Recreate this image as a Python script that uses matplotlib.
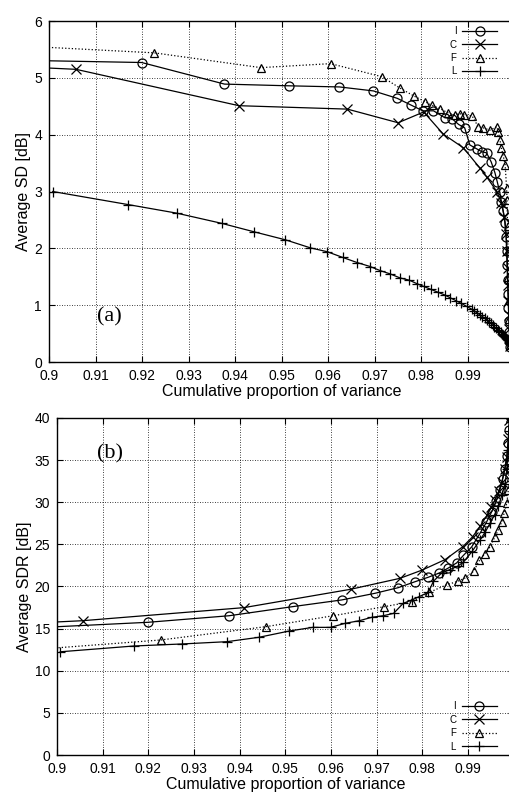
import matplotlib
matplotlib.use("Agg")
import matplotlib.pyplot as plt

plt.rcParams['font.family'] = ['Liberation Sans', 'DejaVu Sans']

labels = ['I', 'C', 'F', 'L']

# (a) average SD [dB] vs cumulative proportion of variance
sd_i_x = [0.880, 0.9199, 0.9377, 0.9515, 0.9624, 0.9697, 0.9748, 0.9778, 0.9803, 0.9826,
          0.9850, 0.9866, 0.9880, 0.9893, 0.9904, 0.9919, 0.9930, 0.9940, 0.9950, 0.9958,
          0.9963, 0.9968, 0.9972, 0.9976, 0.9980, 0.9982, 0.9983, 0.9984, 0.9985, 0.9986,
          0.9987, 0.9988, 0.9989, 0.9990, 0.9991]
sd_i_y = [5.33, 5.27, 4.89, 4.86, 4.84, 4.77, 4.64, 4.52, 4.42, 4.42,
          4.30, 4.28, 4.18, 4.12, 3.82, 3.75, 3.70, 3.68, 3.52, 3.33,
          3.17, 3.00, 2.82, 2.65, 2.45, 2.20, 1.95, 1.70, 1.45, 1.20,
          0.95, 0.72, 0.52, 0.36, 0.26]
sd_c_x = [0.885, 0.9058, 0.9408, 0.9641, 0.9750, 0.9805, 0.9847, 0.9890, 0.9926, 0.9940,
          0.9962, 0.9972, 0.9978, 0.9982, 0.9984, 0.9985, 0.9986, 0.9987, 0.9988, 0.9989,
          0.9990, 0.9991]
sd_c_y = [5.23, 5.15, 4.51, 4.45, 4.21, 4.40, 4.01, 3.77, 3.41, 3.26,
          3.00, 2.80, 2.55, 2.25, 1.95, 1.65, 1.35, 1.08, 0.82, 0.58,
          0.40, 0.28]
sd_f_x = [0.880, 0.9226, 0.9455, 0.9605, 0.9715, 0.9754, 0.9784, 0.9808, 0.9822, 0.9840,
          0.9858, 0.9872, 0.9882, 0.9892, 0.9909, 0.9922, 0.9933, 0.9947, 0.9962, 0.9965,
          0.9969, 0.9972, 0.9976, 0.9980, 0.9983, 0.9984, 0.9985, 0.9986, 0.9987, 0.9988,
          0.9989, 0.9990, 0.9991]
sd_f_y = [5.62, 5.44, 5.18, 5.25, 5.02, 4.82, 4.68, 4.58, 4.52, 4.46,
          4.38, 4.35, 4.37, 4.35, 4.33, 4.14, 4.12, 4.08, 4.14, 4.05,
          3.90, 3.76, 3.62, 3.47, 3.06, 2.85, 2.40, 1.95, 1.50, 1.10,
          0.75, 0.45, 0.30]
sd_l_x = [0.9008, 0.9170, 0.9274, 0.9371, 0.9441, 0.9508, 0.9561, 0.9598, 0.9631, 0.9662,
          0.9690, 0.9711, 0.9733, 0.9754, 0.9774, 0.9790, 0.9805, 0.9820, 0.9835, 0.9850,
          0.9862, 0.9874, 0.9886, 0.9897, 0.9908, 0.9914, 0.9920, 0.9926, 0.9931, 0.9936,
          0.9941, 0.9945, 0.9949, 0.9953, 0.9957, 0.9961, 0.9964, 0.9967, 0.9970, 0.9973,
          0.9976, 0.9978, 0.9980, 0.9982, 0.9984, 0.9986, 0.9988, 0.9989, 0.9990]
sd_l_y = [3.00, 2.77, 2.62, 2.44, 2.29, 2.15, 2.01, 1.94, 1.84, 1.75,
          1.68, 1.61, 1.55, 1.48, 1.44, 1.38, 1.33, 1.28, 1.23, 1.18,
          1.13, 1.08, 1.03, 0.98, 0.93, 0.90, 0.86, 0.83, 0.80, 0.77,
          0.74, 0.71, 0.68, 0.65, 0.62, 0.59, 0.57, 0.55, 0.52, 0.50,
          0.48, 0.46, 0.44, 0.42, 0.40, 0.38, 0.36, 0.34, 0.32]

# (b) average SDR [dB]
sdr_i_x = [0.880, 0.9199, 0.9377, 0.9516, 0.9623, 0.9696, 0.9747, 0.9784, 0.9813, 0.9837,
           0.9857, 0.9875, 0.9890, 0.9908, 0.9926, 0.9940, 0.9952, 0.9962, 0.9970, 0.9976,
           0.9981, 0.9985, 0.9988, 0.9990, 0.9992]
sdr_i_y = [14.7, 15.75, 16.53, 17.61, 18.40, 19.19, 19.86, 20.57, 21.1, 21.6,
           22.2, 22.8, 23.7, 24.7, 26.3, 27.6, 28.9, 30.2, 31.5, 32.8,
           34.0, 35.5, 37.0, 38.6, 40.2]
sdr_c_x = [0.885, 0.9056, 0.9409, 0.9643, 0.9751, 0.9800, 0.9850, 0.9888, 0.9910, 0.9927,
           0.9942, 0.9951, 0.9959, 0.9967, 0.9974, 0.9980, 0.9985, 0.9988, 0.9990, 0.9992]
sdr_c_y = [15.4, 15.94, 17.49, 19.67, 20.97, 21.96, 23.2, 24.7, 25.9, 27.2,
           28.5, 29.4, 30.3, 31.3, 32.4, 33.9, 35.4, 37.5, 39.8, 41.0]
sdr_f_x = [0.880, 0.9227, 0.9457, 0.9605, 0.9716, 0.9777, 0.9815, 0.9853, 0.9877, 0.9893,
           0.9912, 0.9925, 0.9937, 0.9948, 0.9959, 0.9966, 0.9974, 0.9979, 0.9985, 0.9988,
           0.9990, 0.9992]
sdr_f_y = [11.9, 13.65, 15.23, 16.53, 17.6, 18.2, 19.3, 20.2, 20.6, 21.0,
           21.8, 23.1, 23.9, 24.7, 25.9, 26.7, 27.7, 28.7, 29.9, 31.4,
           35.0, 40.0]
sdr_l_x = [0.9007, 0.9169, 0.9274, 0.9372, 0.9442, 0.9509, 0.9560, 0.9599, 0.9631, 0.9662,
           0.9689, 0.9714, 0.9737, 0.9758, 0.9777, 0.9793, 0.9813, 0.9824, 0.9842, 0.9860,
           0.9877, 0.9890, 0.9908, 0.9926, 0.9938, 0.9948, 0.9958, 0.9966, 0.9974, 0.9981,
           0.9985, 0.9988, 0.9990, 0.9992]
sdr_l_y = [12.25, 12.94, 13.18, 13.45, 13.97, 14.72, 15.15, 15.15, 15.63, 15.94,
           16.34, 16.53, 16.81, 18.0, 18.4, 18.8, 19.3, 20.6, 21.6, 22.0,
           22.4, 22.9, 24.1, 25.5, 26.5, 27.5, 28.5, 29.5, 30.8, 32.2,
           34.0, 36.2, 38.5, 40.5]

styles = {
    'I': dict(ls='-', marker='o', ms=6.5, mfc='none'),
    'C': dict(ls='-', marker='x', ms=6.5),
    'F': dict(ls=':', marker='^', ms=6, mfc='none'),
    'L': dict(ls='-', marker='+', ms=7.5),
}

fig = plt.figure(figsize=(5.1, 7.96), dpi=100)
ax_a = fig.add_axes([0.0961, 0.5452, 0.9127, 0.4284])
ax_b = fig.add_axes([0.1118, 0.0515, 0.8955, 0.4234])

panels = [
    (ax_a, [(sd_i_x, sd_i_y), (sd_c_x, sd_c_y), (sd_f_x, sd_f_y), (sd_l_x, sd_l_y)],
     (0, 6), range(0, 7), 'Average SD [dB]', '(a)', (0.9104, 0.80),
     dict(loc='upper right', bbox_to_anchor=(0.978, 1.005))),
    (ax_b, [(sdr_i_x, sdr_i_y), (sdr_c_x, sdr_c_y), (sdr_f_x, sdr_f_y), (sdr_l_x, sdr_l_y)],
     (0, 40), range(0, 45, 5), 'Average SDR [dB]', '(b)', (0.9088, 35.8),
     dict(loc='lower right', bbox_to_anchor=(0.978, -0.01))),
]

xticks = [0.9, 0.91, 0.92, 0.93, 0.94, 0.95, 0.96, 0.97, 0.98, 0.99]

for ax, series, ylim, yticks, ylabel, tag, tagpos, legkw in panels:
    for name, (xs, ys) in zip(labels, series):
        ax.plot(xs, ys, color='k', lw=0.9, mew=0.9, label=name, **styles[name])
    ax.set_xlim(0.9, 1.0)
    ax.set_ylim(*ylim)
    ax.set_xticks(xticks)
    ax.set_xticklabels([('%g' % t) for t in xticks])
    ax.set_yticks(list(yticks))
    ax.grid(True, color='k', ls=(0, (1, 2)), lw=0.6)
    ax.tick_params(direction='in', length=4, width=0.8, top=True, right=True,
                   labelsize=10)
    ax.tick_params(axis='x', pad=5)
    ax.tick_params(axis='y', pad=5)
    for sp in ax.spines.values():
        sp.set_linewidth(1.0)
    ax.set_xlabel('Cumulative proportion of variance', fontsize=11.5, labelpad=1)
    ax.set_ylabel(ylabel, fontsize=11.5, labelpad=2)
    ax.text(tagpos[0], tagpos[1], tag, fontsize=16, family=['Liberation Serif'],
            ha='left', va='center')
    ax.legend(frameon=False, markerfirst=False, fontsize=7, handlelength=3.6,
              labelspacing=0.35, borderpad=0.2, handletextpad=0.6, **legkw)

fig.savefig('out.png', dpi=100)
